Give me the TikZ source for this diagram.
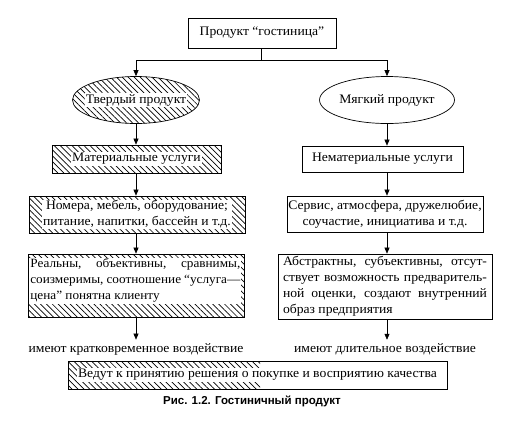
\documentclass[tikz,border=0pt]{standalone}
\usepackage{fontspec}
\setmainfont[FakeStretch=1.05]{Liberation Serif}
\newfontfamily\capfont{Liberation Sans}
\usetikzlibrary{shapes.geometric,patterns.meta,arrows.meta}
\begin{document}
\begin{tikzpicture}[x=1pt,y=-1pt,
  every node/.style={font=\fontsize{13}{16}\selectfont},
  hatch/.style={pattern={Lines[angle=-45,distance=4.2pt,line width=0.7pt]}},
  bx/.style={draw,line width=0.7pt,rectangle,inner sep=0pt},
  ell/.style={draw,line width=0.7pt,ellipse,inner sep=0pt,minimum width=127pt,minimum height=47pt},
  wt/.style={fill=white,inner sep=1pt},
  arr/.style={line width=0.6pt,-{Triangle[length=6pt,width=5pt]}},
  ln/.style={line width=0.6pt}]
\useasboundingbox (0,0) rectangle (520,424);
% top
\node[bx,minimum width=148pt,minimum height=30pt] (t) at (262,33) {Продукт “гостиница”};
\coordinate (j) at (261,60);
\draw[ln] (t.south -| j) -- (j);
\node[ell,hatch] (el) at (136,100) {};
\node[wt] at (el) {Твердый продукт};
\node[ell] (er) at (387,100) {Мягкий продукт};
\draw[arr] (j) -| (el.north);
\draw[arr] (j) -| (er.north);
% level 1
\node[bx,hatch,minimum width=169pt,minimum height=28pt] (l1) at (136.5,159) {};
\node[wt] at (l1) {Материальные услуги};
\node[bx,minimum width=161pt,minimum height=26pt] (r1) at (382.5,159) {Нематериальные услуги};
\draw[arr] (el.south) -- (l1.north -| el.south);
\draw[arr] (er.south) -- (r1.north -| er.south);
% level 2
\node[bx,hatch,minimum width=216pt,minimum height=37pt] (l2) at (137,214.5) {};
\node[wt,align=center] at (l2) {Номера, мебель, оборудование;\\питание, напитки, бассейн и т.д.};
\node[bx,minimum width=196pt,minimum height=36pt,align=center] (r2) at (385,214) {Сервис, атмосфера, дружелюбие,\\соучастие, инициатива и т.д.};
\draw[arr] (l1.south -| el.south) -- (l2.north -| el.south);
\draw[arr] (r1.south -| er.south) -- (r2.north -| er.south);
% level 3
\node[bx,hatch,minimum width=216pt,minimum height=63pt] (l3) at (136,285.5) {};
\node[wt,anchor=north west,align=left,font=\fontsize{12.6}{16}\selectfont] at ([xshift=1.5pt,yshift=-4pt]l3.north west) {\makebox[210pt][s]{Реальны, объективны, сравнимы,}\\\makebox[210pt][s]{соизмеримы, соотношение “услуга—}\\\makebox[210pt][l]{цена” понятна клиенту}};
\node[bx,minimum width=214pt,minimum height=65pt,align=left] (r3) at (385,286.5) {\makebox[204pt][s]{Абстрактны, субъективны, отсут-}\\\makebox[204pt][s]{ствует возможность предваритель-}\\\makebox[204pt][s]{ной оценки, создают внутренний}\\\makebox[204pt][l]{образ предприятия}};
\draw[arr] (l2.south -| el.south) -- (l3.north -| el.south);
\draw[arr] (r2.south -| er.south) -- (r3.north -| er.south);
% effects
\node (le) at (136,349) {имеют кратковременное воздействие};
\node (re) at (385,349) {имеют длительное воздействие};
\draw[arr] (l3.south -| el.south) -- (le.north -| el.south);
\draw[arr] (r3.south -| er.south) -- (re.north -| er.south);
% bottom
\fill[hatch] (68,361) rectangle (260,389);
\node[bx,minimum width=379pt,minimum height=28pt] (b) at (257.5,375) {};
\node[wt] at (b) {Ведут к принятию решения о покупке и восприятию качества};
% caption
\node[font=\capfont\bfseries\fontsize{11.5}{13}\selectfont] (cap) at (252,401) {Рис. 1.2. Гостиничный продукт};
\end{tikzpicture}
\end{document}
